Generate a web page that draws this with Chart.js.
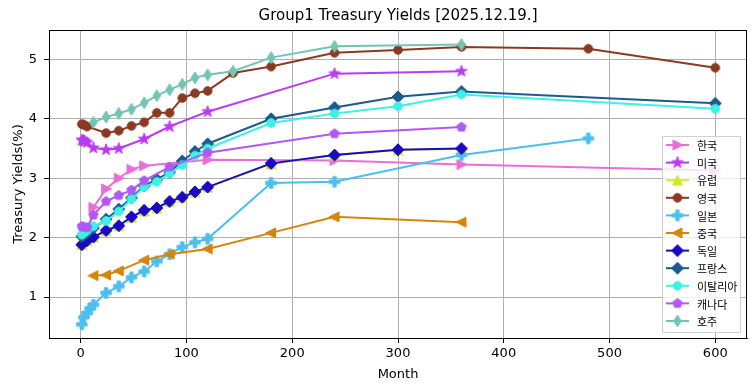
<!DOCTYPE html>
<html>
<head>
<meta charset="utf-8">
<script src="https://cdn.jsdelivr.net/npm/chart.js@4.4.1/dist/chart.umd.min.js"></script>
<style>
  body { margin: 0; background: #fff; }
  canvas { display: block; }
</style>
</head>
<body>
<canvas id="myChart" width="755" height="391"></canvas>
<script>
// ---- data (x = maturity in months, y = yield %) ----
const chartTitle = "Group1 Treasury Yields [2025.12.19.]";
const countries = ["한국", "미국", "유럽", "영국", "일본", "중국", "독일", "프랑스", "이탈리아", "캐나다", "호주"];
const xTicks = [0, 100, 200, 300, 400, 500, 600];
const yTicks = [1, 2, 3, 4, 5];

const krMonths = [12, 24, 36, 48, 60, 120, 240, 360, 600];
const krYields = [2.51, 2.82, 3.00, 3.15, 3.21, 3.31, 3.30, 3.23, 3.13];

const usMonths = [1, 2, 3, 4, 6, 12, 24, 36, 60, 84, 120, 240, 360];
const usYields = [3.64, 3.64, 3.63, 3.62, 3.60, 3.51, 3.48, 3.50, 3.66, 3.87, 4.12, 4.76, 4.80];

const euMonths = [1, 6, 12, 24, 36, 48, 60, 72, 84, 96, 108, 120, 180, 240, 300, 360];
const euYields = [1.89, 1.95, 2.01, 2.12, 2.20, 2.34, 2.45, 2.50, 2.61, 2.68, 2.77, 2.85, 3.24, 3.39, 3.48, 3.49];

const ukMonths = [1, 3, 6, 24, 36, 48, 60, 72, 84, 96, 108, 120, 144, 180, 240, 300, 360, 480, 600];
const ukYields = [3.91, 3.90, 3.87, 3.76, 3.80, 3.88, 3.94, 4.10, 4.10, 4.35, 4.43, 4.47, 4.77, 4.88, 5.11, 5.16, 5.21, 5.18, 4.86];

const jpMonths = [1, 3, 6, 9, 12, 24, 36, 48, 60, 72, 84, 96, 108, 120, 180, 240, 360, 480];
const jpYields = [0.54, 0.66, 0.73, 0.81, 0.87, 1.07, 1.18, 1.33, 1.43, 1.60, 1.72, 1.84, 1.92, 1.98, 2.92, 2.94, 3.39, 3.67];

const cnMonths = [12, 24, 36, 60, 84, 120, 180, 240, 360];
const cnYields = [1.36, 1.37, 1.44, 1.62, 1.72, 1.81, 2.08, 2.35, 2.26];

const deMonths = [1, 6, 12, 24, 36, 48, 60, 72, 84, 96, 108, 120, 180, 240, 300, 360];
const deYields = [1.88, 1.95, 2.01, 2.12, 2.20, 2.35, 2.46, 2.50, 2.61, 2.68, 2.77, 2.85, 3.25, 3.39, 3.48, 3.50];

const frMonths = [1, 3, 6, 12, 24, 36, 48, 60, 72, 84, 96, 108, 120, 180, 240, 300, 360, 600];
const frYields = [2.02, 2.04, 2.08, 2.16, 2.31, 2.48, 2.67, 2.87, 2.98, 3.10, 3.29, 3.45, 3.58, 4.00, 4.19, 4.37, 4.46, 4.26];

const itMonths = [1, 3, 6, 12, 24, 36, 48, 60, 72, 84, 96, 108, 120, 180, 240, 300, 360, 600];
const itYields = [2.05, 2.08, 2.12, 2.19, 2.28, 2.44, 2.65, 2.85, 2.94, 3.08, 3.22, 3.38, 3.50, 3.93, 4.09, 4.21, 4.41, 4.17];

const caMonths = [1, 3, 6, 12, 24, 36, 48, 60, 84, 120, 240, 360];
const caYields = [2.19, 2.18, 2.17, 2.38, 2.61, 2.71, 2.80, 2.96, 3.19, 3.43, 3.75, 3.86];

const auMonths = [12, 24, 36, 48, 60, 72, 84, 96, 108, 120, 144, 180, 240, 360];
const auYields = [3.94, 4.03, 4.09, 4.16, 4.27, 4.39, 4.49, 4.58, 4.69, 4.74, 4.80, 5.03, 5.22, 5.25];

const allMonths = [krMonths, usMonths, euMonths, ukMonths, jpMonths, cnMonths, deMonths, frMonths, itMonths, caMonths, auMonths];
const allYields = [krYields, usYields, euYields, ukYields, jpYields, cnYields, deYields, frYields, itYields, caYields, auYields];

// ---- styles ----
const colors = ['#e86fd8', '#b93cf2', '#d4e62e', '#8b3a22', '#4bbfee', '#d4860a', '#1a0bc2', '#1d5a8e', '#3ef0e6', '#b058f5', '#72c4b4'];
const markers = ['triRight', 'star', 'triUp', 'circle', 'plus', 'triLeft', 'diamond', 'diamond', 'circle', 'pentagon', 'thinDiamond'];

// matplotlib-like marker drawn on a small canvas, used as pointStyle
const makeMarker = (shape, color) => {
    const c = document.createElement('canvas');
    c.width = 16; c.height = 16;
    const g = c.getContext('2d');
    g.translate(8, 8);
    g.fillStyle = color;
    g.strokeStyle = color;
    g.lineWidth = 1;
    g.beginPath();
    const poly = (pts) => { pts.forEach((p, i) => i ? g.lineTo(p[0], p[1]) : g.moveTo(p[0], p[1])); g.closePath(); };
    if (shape === 'circle') {
        g.arc(0, 0, 4.3, 0, Math.PI * 2);
    } else if (shape === 'triUp') {
        poly([[0, -5], [-5, 5], [5, 5]]);
    } else if (shape === 'triRight') {
        poly([[5.5, 0], [-4.5, -5], [-4.5, 5]]);
    } else if (shape === 'triLeft') {
        poly([[-5.5, 0], [4.5, -5], [4.5, 5]]);
    } else if (shape === 'star') {
        const pts = [];
        for (let i = 0; i < 10; i++) {
            const r = i % 2 ? 2.4 : 6;
            const a = -Math.PI / 2 + i * Math.PI / 5;
            pts.push([r * Math.cos(a), r * Math.sin(a)]);
        }
        poly(pts);
    } else if (shape === 'plus') {
        const a = 1.8, b = 5.2;
        poly([[-a, -b], [a, -b], [a, -a], [b, -a], [b, a], [a, a], [a, b], [-a, b], [-a, a], [-b, a], [-b, -a], [-a, -a]]);
    } else if (shape === 'diamond') {
        poly([[0, -6], [6, 0], [0, 6], [-6, 0]]);
    } else if (shape === 'thinDiamond') {
        poly([[0, -6], [3.8, 0], [0, 6], [-3.8, 0]]);
    } else if (shape === 'pentagon') {
        const pts = [];
        for (let i = 0; i < 5; i++) {
            const a = -Math.PI / 2 + i * 2 * Math.PI / 5;
            pts.push([4.9 * Math.cos(a), 4.9 * Math.sin(a)]);
        }
        poly(pts);
    }
    g.fill();
    g.stroke();
    return c;
};

const datasets = countries.map((name, i) => {
    const img = makeMarker(markers[i], colors[i]);
    return {
        label: name,
        data: allMonths[i].map((m, j) => ({ x: m, y: allYields[i][j] })),
        borderColor: colors[i],
        backgroundColor: colors[i],
        borderWidth: 2,
        pointStyle: img,
        pointRadius: 5,
        pointHoverRadius: 5,
        tension: 0,
        fill: false,
        order: countries.length - i   // later series on top, like matplotlib
    };
});

// title, frame and legend drawn by hand
const decorPlugin = {
    id: 'decor',
    afterDraw(chart) {
        const { ctx, chartArea: a } = chart;
        ctx.save();
        // frame
        ctx.strokeStyle = '#000';
        ctx.lineWidth = 1;
        ctx.strokeRect(a.left + 0.5, a.top + 0.5, a.right - a.left - 1, a.bottom - a.top);
        // title
        ctx.fillStyle = '#000';
        ctx.font = '15px "DejaVu Sans"';
        ctx.textAlign = 'center';
        ctx.textBaseline = 'middle';
        ctx.fillText(chartTitle, (a.left + a.right) / 2, 16);
        // legend
        const w = 78, h = 196;
        const bx = a.right - 7 - w, by = a.bottom - 6 - h;
        ctx.globalAlpha = 0.8;
        ctx.fillStyle = '#fff';
        ctx.fillRect(bx, by, w, h);
        ctx.globalAlpha = 1;
        ctx.strokeStyle = '#d0d0d0';
        ctx.strokeRect(bx + 0.5, by + 0.5, w, h);
        ctx.font = '11px "Noto Sans CJK KR"';
        ctx.textAlign = 'left';
        chart.data.datasets.forEach((ds, i) => {
            const y = by + 9 + i * 17.6;
            ctx.strokeStyle = ds.borderColor;
            ctx.lineWidth = 2;
            ctx.beginPath();
            ctx.moveTo(bx + 4, y);
            ctx.lineTo(bx + 27, y);
            ctx.stroke();
            ctx.drawImage(ds.pointStyle, bx + 15.5 - 8, y - 8);
            ctx.fillStyle = '#000';
            ctx.fillText(ds.label, bx + 35, y + 1);
        });
        ctx.restore();
    }
};

const tickFont = { family: 'DejaVu Sans', size: 13 };

var ctx = document.getElementById('myChart').getContext('2d');
const chart = new Chart(ctx, {
    type: 'line',
    data: { datasets: datasets },
    options: {
        responsive: false,
        animation: false,
        devicePixelRatio: 1,
        layout: { padding: { top: 30, right: 8, left: 0, bottom: 0 } },
        plugins: {
            legend: { display: false },
            tooltip: { enabled: false },
            title: { display: false }
        },
        scales: {
            x: {
                type: 'linear',
                min: -30,
                max: 630,
                afterBuildTicks: (s) => { s.ticks = xTicks.map(v => ({ value: v })); },
                afterFit: (s) => { s.height = 53; },
                ticks: { color: '#000', font: tickFont, padding: 3, maxRotation: 0 },
                grid: { color: '#b0b0b0', lineWidth: 1, tickLength: 5, tickColor: '#000' },
                border: { color: '#000' },
                title: { display: true, text: 'Month', color: '#000', font: tickFont, padding: { top: 2, bottom: 9 } }
            },
            y: {
                type: 'linear',
                min: 0.31,
                max: 5.495,
                afterBuildTicks: (s) => { s.ticks = yTicks.map(v => ({ value: v })); },
                afterFit: (s) => { s.width = 49; },
                ticks: { color: '#000', font: tickFont, padding: 7 },
                grid: { color: '#b0b0b0', lineWidth: 1, tickLength: 5, tickColor: '#000' },
                border: { color: '#000' },
                title: { display: true, text: 'Treasury Yields(%)', color: '#000', font: tickFont, padding: { top: 11, bottom: 0 } }
            }
        }
    },
    plugins: [decorPlugin]
});
</script>
</body>
</html>
